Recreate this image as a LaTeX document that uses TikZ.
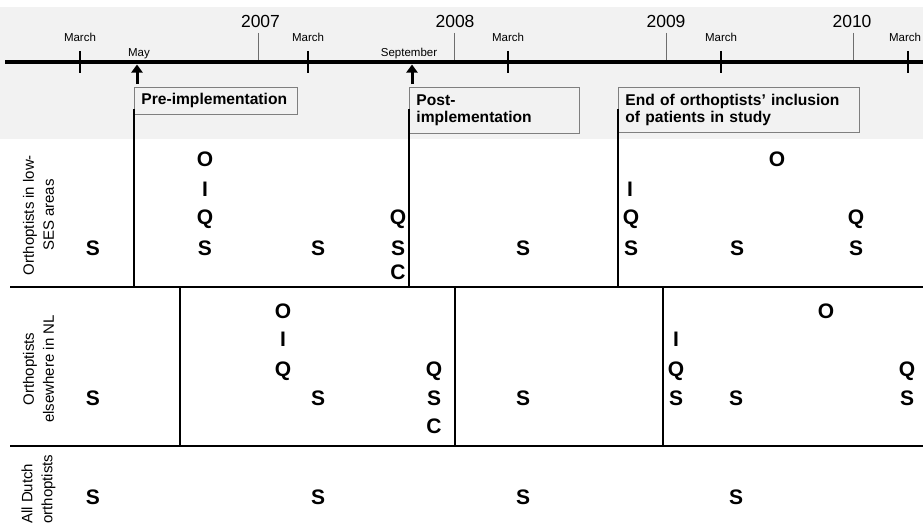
\documentclass[tikz,border=0pt]{standalone}
\usepackage{fontspec}
\setmainfont{Liberation Sans}
\usetikzlibrary{arrows.meta}
\definecolor{bandgrey}{HTML}{F2F2F2}
\definecolor{boxedge}{HTML}{7F7F7F}
\definecolor{yearline}{HTML}{6E6E6E}
\tikzset{
  let/.style={font=\fontsize{21}{24}\selectfont\bfseries, inner sep=0pt, anchor=base},
  month/.style={font=\fontsize{11.5}{13}\selectfont, inner sep=0pt, anchor=base},
  year/.style={font=\fontsize{17.5}{20}\selectfont, inner sep=0pt, anchor=base},
  phasebox/.style={draw=boxedge, line width=0.9pt, fill=bandgrey,
    font=\fontsize{15.6}{17}\selectfont\bfseries, align=left, anchor=north west,
    inner xsep=7pt, inner ysep=0pt},
  rowlabel/.style={font=\fontsize{15}{20}\selectfont, rotate=90, align=center, inner sep=0pt},
  timeline/.style={line width=4.5pt},
  monthtick/.style={line width=2.6pt},
  yeartick/.style={line width=0.9pt, draw=yearline},
  rowline/.style={line width=2.2pt},
  vline/.style={line width=2pt},
  phasearrow/.style={line width=3pt, -{Triangle[width=11pt,length=8pt]}},
}
\begin{document}
\begin{tikzpicture}[x=1pt,y=-1pt]
\useasboundingbox (0,0) rectangle (923,527);
\fill[bandgrey] (0,7) rectangle (923,139);

% timeline
\coordinate (tlA) at (5,62);
\coordinate (tlB) at (923,62);
\draw[timeline] (tlA) -- (tlB);

% month ticks
\foreach \x [count=\i] in {80,308,508,721,908}{
  \coordinate (mtA\i) at (\x,51);
  \coordinate (mtB\i) at (\x,73);
  \draw[monthtick] (mtA\i) -- (mtB\i);
}
% year ticks
\foreach \x [count=\i] in {258,454,666,853}{
  \coordinate (ytA\i) at (\x,33);
  \coordinate (ytB\i) at (\x,60);
  \draw[yeartick] (ytA\i) -- (ytB\i);
}

% labels
\node[month] (m1) at (80,42) {March};
\node[month] (m2) at (308,42) {March};
\node[month] (m3) at (508,42) {March};
\node[month] (m4) at (721,42) {March};
\node[month] (m5) at (905,42) {March};
\node[month] (may) at (139,56.5) {May};
\node[month] (sep) at (409,56.5) {September};
\node[year] (y7) at (260.5,28) {2007};
\node[year] (y8) at (455,28) {2008};
\node[year] (y9) at (666,28) {2009};
\node[year] (y10) at (852,28) {2010};

% arrows
\coordinate (arA) at (137,84);
\coordinate (arAt) at (137,64.5);
\draw[phasearrow] (arA) -- (arAt);
\coordinate (arB) at (412,84);
\coordinate (arBt) at (412,64.5);
\draw[phasearrow] (arB) -- (arBt);

% phase boxes
\node[phasebox, text width=149pt, minimum height=27pt] (pre) at (134,87) {Pre-implementation};
\node[phasebox, text width=156pt, minimum height=46pt] (post) at (409,87) {Post-\\implementation};
\node[phasebox, text width=227pt, minimum height=45pt] (endb) at (618,87) {End of orthoptists’ inclusion\\of patients in study};

% row lines
\coordinate (r1L) at (10,287);
\coordinate (r1R) at (923,287);
\coordinate (r2L) at (10,446);
\coordinate (r2R) at (923,446);
\draw[rowline] (r1L) -- (r1R);
\draw[rowline] (r2L) -- (r2R);

% row 1 verticals
\draw[vline] ([yshift=6pt]pre.south west) -- (pre.south west |- r1L);
\draw[vline] ([yshift=25pt]post.south west) -- (post.south west |- r1L);
\draw[vline] ([yshift=24pt]endb.south west) -- (endb.south west |- r1L);

% row 2 verticals
\foreach \x [count=\i] in {180,455,663}{
  \coordinate (vt\i) at (\x,288);
  \draw[vline] (vt\i) -- (vt\i |- r2L);
}

% row labels
\node[rowlabel] (lab1) at (38.5,215) {Orthoptists in low-\\SES areas};
\node[rowlabel] (lab2) at (38.5,369) {Orthoptists\\elsewhere in NL};
\node[rowlabel, align=left, anchor=west] (lab3) at (38.5,524) {All Dutch\\orthoptists};

% row 1 letters
\node[let] (a1) at (93,255) {S};
\node[let] (a2o) at (205,166) {O};
\node[let] (a2i) at (205,196) {I};
\node[let] (a2q) at (205,224) {Q};
\node[let] (a2s) at (205,255) {S};
\node[let] (a3) at (318,255) {S};
\node[let] (a4q) at (398,224) {Q};
\node[let] (a4s) at (398,255) {S};
\node[let] (a4c) at (398,279) {C};
\node[let] (a5) at (523,255) {S};
\node[let] (a6i) at (630,196) {I};
\node[let] (a6q) at (631,224) {Q};
\node[let] (a6s) at (631,255) {S};
\node[let] (a7) at (737,255) {S};
\node[let] (a8o) at (777,166) {O};
\node[let] (a9q) at (856,224) {Q};
\node[let] (a9s) at (856,255) {S};

% row 2 letters
\node[let] (b1) at (93,405) {S};
\node[let] (b2o) at (283,318) {O};
\node[let] (b2i) at (283,346) {I};
\node[let] (b2q) at (283,376) {Q};
\node[let] (b3) at (318,405) {S};
\node[let] (b4q) at (434,376) {Q};
\node[let] (b4s) at (434,405) {S};
\node[let] (b4c) at (434,433) {C};
\node[let] (b5) at (523,405) {S};
\node[let] (b6i) at (676,346) {I};
\node[let] (b6q) at (676,376) {Q};
\node[let] (b6s) at (676,405) {S};
\node[let] (b7) at (736,405) {S};
\node[let] (b8o) at (826,318) {O};
\node[let] (b9q) at (907,376) {Q};
\node[let] (b9s) at (907,405) {S};

% row 3 letters
\node[let] (c1) at (93,504) {S};
\node[let] (c2) at (318,504) {S};
\node[let] (c3) at (523,504) {S};
\node[let] (c4) at (736,504) {S};
\end{tikzpicture}
\end{document}
